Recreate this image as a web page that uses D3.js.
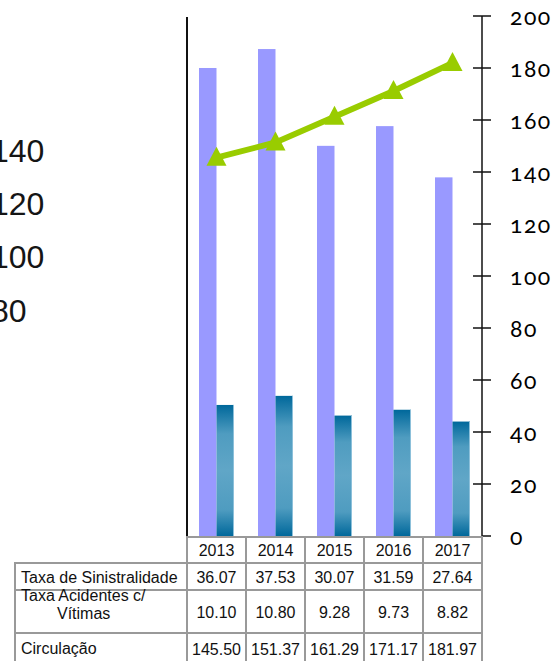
<!DOCTYPE html>
<html>
<head>
<meta charset="utf-8">
<script src="https://cdn.jsdelivr.net/npm/d3@7"></script>
<style>
  body { margin: 0; background: #fff; overflow: hidden; }
  svg { display: block; }
</style>
</head>
<body>
<script>
// data
var years = ['2013', '2014', '2015', '2016', '2017'];
var taxaSinistralidade = [36.07, 37.53, 30.07, 31.59, 27.64];
var taxaAcidentes = [10.10, 10.80, 9.28, 9.73, 8.82];
var circulacao = [145.50, 151.37, 161.29, 171.17, 181.97];
var rightTicks = [0, 20, 40, 60, 80, 100, 120, 140, 160, 180, 200];
var strayTicks = [140, 120, 100, 80]; // cut-off labels at the far left

var width = 559, height = 661;
var plotLeft = 187, plotRight = 482, plotTop = 16, plotBottom = 536;

var svg = d3.select('body').append('svg')
	.attr('width', width)
	.attr('height', height);

var defs = svg.append('defs');
var grad = defs.append('linearGradient')
	.attr('id', 'darkbar')
	.attr('x1', 0).attr('y1', 0).attr('x2', 0).attr('y2', 1);
grad.append('stop').attr('offset', '0%').attr('stop-color', '#00689b');
grad.append('stop').attr('offset', '22%').attr('stop-color', '#4f9cc0');
grad.append('stop').attr('offset', '50%').attr('stop-color', '#60a6c7');
grad.append('stop').attr('offset', '80%').attr('stop-color', '#4f9cc0');
grad.append('stop').attr('offset', '100%').attr('stop-color', '#00689b');

// scales
var x = d3.scaleBand().domain(years).range([plotLeft, plotRight]);
var xs = d3.scaleBand().domain(['sin', 'aci']).range([12, x.bandwidth() - 12]);
var yLeft = d3.scaleLinear().domain([0, 40]).range([plotBottom, 17]);
var yRight = d3.scaleLinear().domain([0, 200]).range([plotBottom, plotTop]);
var yStray = d3.scaleLinear().domain([0, 200]).range([535, 1.7]);

// stray labels on the left edge
svg.append('g').selectAll('text')
	.data(strayTicks)
	.enter()
	.append('text')
	.attr('x', -9)
	.attr('y', function(d) { return yStray(d); })
	.attr('font-family', 'Liberation Sans, Arial, sans-serif')
	.attr('font-size', 32)
	.attr('fill', '#151515')
	.text(function(d) { return d; });

// bars
var bars = svg.append('g');
bars.selectAll('rect.sin')
	.data(taxaSinistralidade)
	.enter()
	.append('rect')
	.attr('class', 'sin')
	.attr('x', function(d, i) { return x(years[i]) + xs('sin'); })
	.attr('y', function(d) { return yLeft(d); })
	.attr('width', xs.bandwidth())
	.attr('height', function(d) { return plotBottom - yLeft(d); })
	.attr('fill', '#9999ff');

bars.selectAll('rect.aci')
	.data(taxaAcidentes)
	.enter()
	.append('rect')
	.attr('class', 'aci')
	.attr('x', function(d, i) { return x(years[i]) + xs('aci'); })
	.attr('y', function(d) { return yLeft(d); })
	.attr('width', xs.bandwidth())
	.attr('height', function(d) { return plotBottom - yLeft(d); })
	.attr('fill', 'url(#darkbar)');

// thin light edge on the right of the dark bars
bars.selectAll('line.edge')
	.data(taxaAcidentes)
	.enter()
	.append('line')
	.attr('x1', function(d, i) { return x(years[i]) + xs('aci') + xs.bandwidth() - 0.5; })
	.attr('x2', function(d, i) { return x(years[i]) + xs('aci') + xs.bandwidth() - 0.5; })
	.attr('y1', function(d) { return yLeft(d); })
	.attr('y2', plotBottom)
	.attr('stroke', '#8cc0da')
	.attr('stroke-width', 1);

// left axis (plain line)
svg.append('line')
	.attr('x1', plotLeft).attr('x2', plotLeft)
	.attr('y1', 17).attr('y2', plotBottom + 1)
	.attr('stroke', '#111')
	.attr('stroke-width', 2);

// right axis
var rAxis = svg.append('g').attr('transform', 'translate(' + plotRight + ',0)');
rAxis.append('line')
	.attr('x1', 0).attr('x2', 0)
	.attr('y1', yRight(200)).attr('y2', yRight(0))
	.attr('stroke', '#111')
	.attr('stroke-width', 1.5);
rAxis.selectAll('line.tick')
	.data(rightTicks)
	.enter()
	.append('line')
	.attr('class', 'tick')
	.attr('x1', function(d) { return d == 0 ? 0 : -9; })
	.attr('x2', 9)
	.attr('y1', function(d) { return yRight(d); })
	.attr('y2', function(d) { return yRight(d); })
	.attr('stroke', '#111')
	.attr('stroke-width', 1.5);
rAxis.selectAll('text')
	.data(rightTicks)
	.enter()
	.append('text')
	.attr('x', 28)
	.attr('y', function(d) { return yRight(d) + 9; })
	.attr('font-family', 'Lato, Open Sans, sans-serif')
	.attr('font-size', 23)
	.attr('letter-spacing', 1.5)
	.style('font-variant-numeric', 'oldstyle-nums')
	.attr('fill', '#000')
	.text(function(d) { return d; });

// line series
var line = d3.line()
	.x(function(d, i) { return x(years[i]) + x.bandwidth() / 2; })
	.y(function(d) { return yRight(d); });

svg.append('path')
	.datum(circulacao)
	.attr('d', line)
	.attr('fill', 'none')
	.attr('stroke', '#99cc00')
	.attr('stroke-width', 6);

svg.append('g').selectAll('path')
	.data(circulacao)
	.enter()
	.append('path')
	.attr('transform', function(d, i) {
		return 'translate(' + (x(years[i]) + x.bandwidth() / 2) + ',' + yRight(d) + ')';
	})
	.attr('d', 'M0,-11L10,8L-10,8Z')
	.attr('fill', '#99cc00');

// data table
var fmt = d3.format('.2f');
var tableFont = 'Liberation Sans, Arial, sans-serif';
var border = '#999';
var labelX0 = 15;

var rows = [
	{ label: ['Taxa de Sinistralidade'], values: taxaSinistralidade },
	{ label: ['Taxa Acidentes c/', 'Vítimas'], values: taxaAcidentes },
	{ label: ['Circulação'], values: circulacao }
];
var rowTops = [563, 590, 633, 663];
var rowBase = [583, 618, 655];
var labelBase = [[601, 0], [601, 619], [654]];
labelBase[0] = [583];
var labelIndent = [[21], [21, 57], [21]];

var table = svg.append('g');

// header row of years
table.selectAll('rect.head')
	.data(years)
	.enter()
	.append('rect')
	.attr('x', function(d) { return x(d); })
	.attr('y', plotBottom + 1)
	.attr('width', x.bandwidth())
	.attr('height', rowTops[0] - plotBottom - 1)
	.attr('fill', 'none')
	.attr('stroke', border)
	.attr('stroke-width', 2);
table.selectAll('text.head')
	.data(years)
	.enter()
	.append('text')
	.attr('x', function(d) { return x(d) + x.bandwidth() / 2; })
	.attr('y', 556)
	.attr('text-anchor', 'middle')
	.attr('font-family', tableFont)
	.attr('font-size', 16)
	.attr('fill', '#111')
	.text(function(d) { return d; });

rows.forEach(function(row, r) {
	var y0 = rowTops[r], y1 = rowTops[r + 1];
	var g = table.append('g');
	g.append('rect')
		.attr('x', labelX0)
		.attr('y', y0)
		.attr('width', plotLeft - labelX0)
		.attr('height', y1 - y0)
		.attr('fill', 'none')
		.attr('stroke', border)
		.attr('stroke-width', 2);
	g.selectAll('text.lab')
		.data(row.label)
		.enter()
		.append('text')
		.attr('x', function(d, k) { return labelIndent[r][k]; })
		.attr('y', function(d, k) { return labelBase[r][k]; })
		.attr('font-family', tableFont)
		.attr('font-size', 16)
		.attr('fill', '#111')
		.text(function(d) { return d; });
	g.selectAll('rect.cell')
		.data(row.values)
		.enter()
		.append('rect')
		.attr('x', function(d, i) { return x(years[i]); })
		.attr('y', y0)
		.attr('width', x.bandwidth())
		.attr('height', y1 - y0)
		.attr('fill', 'none')
		.attr('stroke', border)
		.attr('stroke-width', 2);
	g.selectAll('text.val')
		.data(row.values)
		.enter()
		.append('text')
		.attr('x', function(d, i) { return x(years[i]) + x.bandwidth() / 2; })
		.attr('y', rowBase[r])
		.attr('text-anchor', 'middle')
		.attr('font-family', tableFont)
		.attr('font-size', 16)
		.attr('fill', '#111')
		.text(function(d) { return fmt(d); });
});
</script>
</body>
</html>
